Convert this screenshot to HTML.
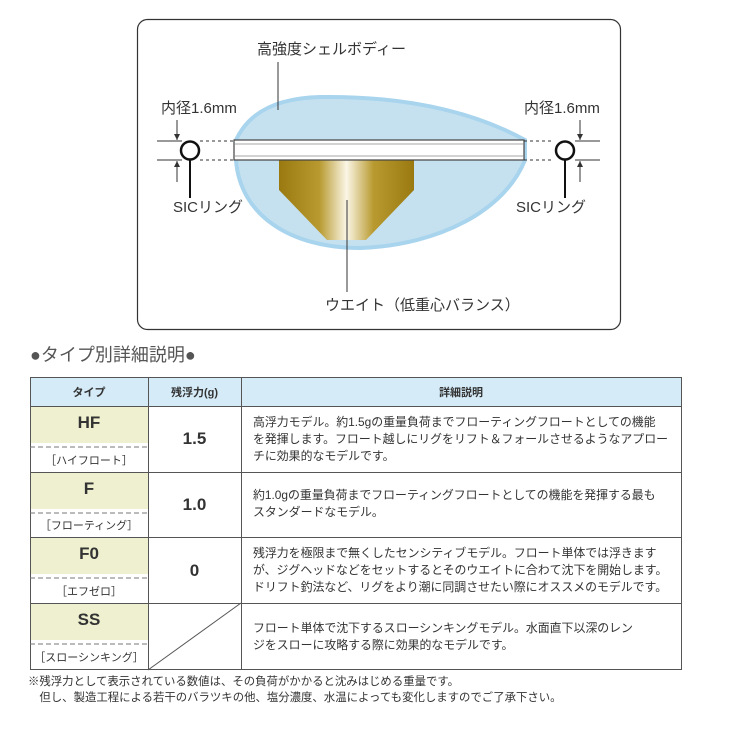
<!DOCTYPE html>
<html><head><meta charset="utf-8"><style>
body{margin:0;width:729px;height:729px;background:#fff;position:relative;overflow:hidden;font-family:"Liberation Sans","Noto Sans CJK JP",sans-serif;color:#333}
.t{position:absolute;white-space:nowrap}
</style></head><body>
<svg width="729" height="729" style="position:absolute;left:0;top:0">
<defs>
<linearGradient id="g" x1="0" x2="1" y1="0" y2="0">
<stop offset="0" stop-color="#9a7a10"/><stop offset="0.3" stop-color="#b89a30"/><stop offset="0.5" stop-color="#fbf6e6"/><stop offset="0.7" stop-color="#b89a30"/><stop offset="1" stop-color="#9a7a10"/>
</linearGradient>
</defs>
<rect x="137.5" y="19.5" width="483" height="310" rx="10" fill="#fff" stroke="#333" stroke-width="1.2"/>
<path d="M236 140 C250 110 280 98 320 97 C400 96 470 110 525 140 L525 160 C505 210 440 245 360 248 C290 248 240 215 236 160 Z" fill="#c5e1ef" stroke="#a8d4ee" stroke-width="4"/>
<path d="M279 160 L414 160 L414 190 L366 240 L327 240 L279 190 Z" fill="url(#g)"/>
<rect x="234" y="140" width="290" height="20" fill="#fff" stroke="#444" stroke-width="1.2"/>
<line x1="234" y1="144" x2="524" y2="144" stroke="#888" stroke-width="0.8"/>
<line x1="234" y1="156" x2="524" y2="156" stroke="#888" stroke-width="0.8"/>
<g stroke="#333" stroke-width="1" stroke-dasharray="3,3" fill="none">
<line x1="200" y1="141" x2="234" y2="141"/><line x1="200" y1="160" x2="234" y2="160"/>
<line x1="524" y1="141" x2="554" y2="141"/><line x1="524" y1="160" x2="554" y2="160"/>
</g>
<g stroke="#333" stroke-width="1" fill="none">
<line x1="157" y1="141" x2="182" y2="141"/><line x1="157" y1="160" x2="182" y2="160"/>
<line x1="177" y1="120" x2="177" y2="140"/><line x1="177" y1="161" x2="177" y2="182"/>
<line x1="575" y1="141" x2="600" y2="141"/><line x1="575" y1="160" x2="600" y2="160"/>
<line x1="580" y1="120" x2="580" y2="140"/><line x1="580" y1="161" x2="580" y2="182"/>
<line x1="278" y1="62" x2="278" y2="110"/>
<line x1="347" y1="200" x2="347" y2="292"/>
</g>
<g stroke="#111" stroke-width="2.5" fill="none">
<circle cx="190" cy="150.5" r="9"/><circle cx="565" cy="150.5" r="9"/>
</g>
<g stroke="#111" stroke-width="2" fill="none">
<line x1="190" y1="160" x2="190" y2="198"/><line x1="565" y1="160" x2="565" y2="198"/>
</g>
<g fill="#333">
<path d="M174 134 L180 134 L177 140Z"/><path d="M174 167 L180 167 L177 161Z"/>
<path d="M577 134 L583 134 L580 140Z"/><path d="M577 167 L583 167 L580 161Z"/>
</g>
<rect x="30" y="377" width="651" height="29" fill="#d5ebf8"/>
<rect x="30" y="406" width="118" height="37" fill="#eef0cf"/>
<rect x="30" y="472" width="118" height="37" fill="#eef0cf"/>
<rect x="30" y="537" width="118" height="37" fill="#eef0cf"/>
<rect x="30" y="603" width="118" height="37" fill="#eef0cf"/>
<g stroke="#555" stroke-width="1" fill="none">
<rect x="30.5" y="377.5" width="651" height="292"/>
<line x1="148.5" y1="377" x2="148.5" y2="670"/><line x1="241.5" y1="377" x2="241.5" y2="670"/>
<line x1="30" y1="406.5" x2="682" y2="406.5"/><line x1="30" y1="472.5" x2="682" y2="472.5"/>
<line x1="30" y1="537.5" x2="682" y2="537.5"/><line x1="30" y1="603.5" x2="682" y2="603.5"/>
<line x1="148" y1="670" x2="241" y2="603"/>
</g>
<g stroke="#777" stroke-width="1" stroke-dasharray="5,3">
<line x1="30" y1="447" x2="148" y2="447"/><line x1="30" y1="513" x2="148" y2="513"/>
<line x1="30" y1="578" x2="148" y2="578"/><line x1="30" y1="644" x2="148" y2="644"/>
</g>
</svg>
<div class="t" style="left:257px;top:38px;font-size:15px">高強度シェルボディー</div>
<div class="t" style="left:161px;top:97px;font-size:15px">内径1.6mm</div>
<div class="t" style="left:524px;top:97px;font-size:15px">内径1.6mm</div>
<div class="t" style="left:173px;top:196px;font-size:15px">SICリング</div>
<div class="t" style="left:516px;top:196px;font-size:15px">SICリング</div>
<div class="t" style="left:325px;top:294px;font-size:15px">ウエイト（低重心バランス）</div>
<div class="t" style="left:30px;top:341px;font-size:18px;color:#555">●タイプ別詳細説明●</div>
<div class="t" style="left:30px;top:384px;width:118px;text-align:center;font-size:11px;font-weight:bold">タイプ</div>
<div class="t" style="left:148px;top:384px;width:93px;text-align:center;font-size:11px;font-weight:bold">残浮力(g)</div>
<div class="t" style="left:241px;top:384px;width:440px;text-align:center;font-size:11px;font-weight:bold">詳細説明</div>
<div class="t" style="left:30px;top:413px;width:118px;text-align:center;font-size:17px;font-weight:bold">HF</div>
<div class="t" style="left:30px;top:452px;width:118px;text-align:center;font-size:11px">［ハイフロート］</div>
<div class="t" style="left:30px;top:479px;width:118px;text-align:center;font-size:17px;font-weight:bold">F</div>
<div class="t" style="left:30px;top:517px;width:118px;text-align:center;font-size:11px">［フローティング］</div>
<div class="t" style="left:30px;top:544px;width:118px;text-align:center;font-size:17px;font-weight:bold">F0</div>
<div class="t" style="left:30px;top:583px;width:118px;text-align:center;font-size:11px">［エフゼロ］</div>
<div class="t" style="left:30px;top:610px;width:118px;text-align:center;font-size:17px;font-weight:bold">SS</div>
<div class="t" style="left:30px;top:649px;width:118px;text-align:center;font-size:11px">［スローシンキング］</div>
<div class="t" style="left:148px;top:429px;width:93px;text-align:center;font-size:17px;font-weight:bold">1.5</div>
<div class="t" style="left:148px;top:495px;width:93px;text-align:center;font-size:17px;font-weight:bold">1.0</div>
<div class="t" style="left:148px;top:561px;width:93px;text-align:center;font-size:17px;font-weight:bold">0</div>
<div class="t" style="left:253px;top:414px;font-size:11.9px;line-height:17px">高浮力モデル。約1.5gの重量負荷までフローティングフロートとしての機能<br>を発揮します。フロート越しにリグをリフト＆フォールさせるようなアプロー<br>チに効果的なモデルです。</div>
<div class="t" style="left:253px;top:487px;font-size:11.9px;line-height:17px">約1.0gの重量負荷までフローティングフロートとしての機能を発揮する最も<br>スタンダードなモデル。</div>
<div class="t" style="left:253px;top:545px;font-size:11.9px;line-height:17px">残浮力を極限まで無くしたセンシティブモデル。フロート単体では浮きます<br>が、ジグヘッドなどをセットするとそのウエイトに合わて沈下を開始します。<br>ドリフト釣法など、リグをより潮に同調させたい際にオススメのモデルです。</div>
<div class="t" style="left:253px;top:620px;font-size:11.9px;line-height:17px">フロート単体で沈下するスローシンキングモデル。水面直下以深のレン<br>ジをスローに攻略する際に効果的なモデルです。</div>
<div class="t" style="left:28px;top:674px;font-size:11.4px;line-height:16px">※残浮力として表示されている数値は、その負荷がかかると沈みはじめる重量です。<br>　但し、製造工程による若干のバラツキの他、塩分濃度、水温によっても変化しますのでご了承下さい。</div>
</body></html>
